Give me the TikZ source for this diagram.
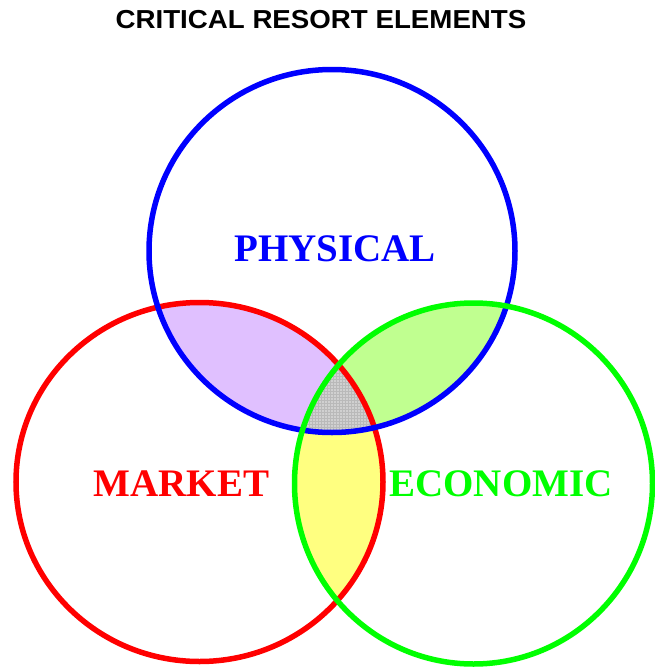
\documentclass[tikz,border=0pt]{standalone}
\usepackage{fontspec}
\setmainfont{Liberation Serif}
\newfontfamily\headfont{Liberation Sans}
\usetikzlibrary{patterns}

\definecolor{cblue}{RGB}{0,0,255}
\definecolor{cred}{RGB}{255,0,0}
\definecolor{cgreen}{RGB}{0,255,0}
\definecolor{fillpurple}{RGB}{224,192,255}
\definecolor{filllime}{RGB}{192,255,144}
\definecolor{fillyellow}{RGB}{255,255,128}
\definecolor{fillgrey}{RGB}{208,208,208}

\tikzset{
  ring/.style={line width=5.5pt},
  setlabel/.style={font=\fontsize{39pt}{39pt}\selectfont\bfseries, inner sep=0pt},
  headline/.style={font=\headfont\fontsize{26pt}{26pt}\selectfont\bfseries, inner sep=0pt, xscale=1.065},
}

\begin{document}
\begin{tikzpicture}[x=1pt,y=-1pt]
  \useasboundingbox (0,0) rectangle (654,667);
  \fill[white] (0,0) rectangle (654,667);

  % centres of the three sets
  \coordinate (cp) at (332,251);
  \coordinate (cm) at (199.5,482);
  \coordinate (ce) at (473.5,483.5);

  \def\physpath{(cp) ellipse [x radius=183pt, y radius=181.5pt]}
  \def\markpath{(cm) ellipse [x radius=183.5pt, y radius=179.5pt]}
  \def\econpath{(ce) ellipse [x radius=179pt, y radius=180.5pt]}

  % pairwise overlaps
  \begin{scope}
    \clip \physpath;
    \fill[fillpurple] \markpath;
    \fill[filllime] \econpath;
  \end{scope}
  \begin{scope}
    \clip \markpath;
    \fill[fillyellow] \econpath;
  \end{scope}
  % common core of all three
  \begin{scope}
    \clip \physpath;
    \clip \markpath;
    \fill[fillgrey] \econpath;
    \fill[pattern=grid, pattern color=gray!55] \econpath;
  \end{scope}

  % outlines
  \draw[ring, cred] \markpath;
  \draw[ring, cblue] \physpath;
  \draw[ring, cgreen] \econpath;

  % labels
  \node[headline] (title) at (321,20) {CRITICAL RESORT ELEMENTS};
  \node[setlabel, text=cblue] (physical) at (335,249) {PHYSICAL};
  \node[setlabel, text=cred] (market) at (181.5,484) {MARKET};
  \node[setlabel, text=cgreen] (economic) at (501,484) {ECONOMIC};
\end{tikzpicture}
\end{document}
